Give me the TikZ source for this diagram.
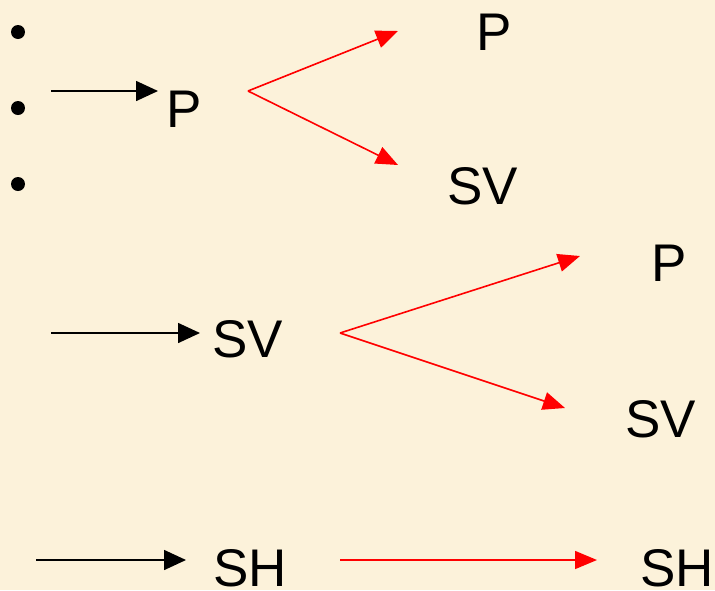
\documentclass[tikz,border=0pt]{standalone}
\usepackage{fontspec}
\setmainfont{Liberation Sans}
\usepackage{xcolor}
\usetikzlibrary{arrows.meta}
\definecolor{paperCream}{HTML}{FCF2DA}
\definecolor{forkRed}{HTML}{FF0000}

\begin{document}
\begin{tikzpicture}[
  x=1pt, y=-1pt,
  lbl/.style={anchor=base west, inner sep=0pt, font=\fontsize{53}{60}\selectfont},
  dot/.style={circle, fill=black, inner sep=0pt, minimum size=14pt},
  arr/.style={-{Triangle[length=22pt, width=20pt]}, line width=1.6pt},
  rarr/.style={color=forkRed, line width=1.6pt, -{Triangle[length=22pt, width=18pt]}}
]
\fill[paperCream] (0,0) rectangle (715,590);
\useasboundingbox (0,0) rectangle (715,590);
% bullets
\node[dot] (b1) at (18,32) {};
\node[dot] (b2) at (18,108) {};
\node[dot] (b3) at (18,184) {};
% labels
\node[lbl] (p1) at (166,127) {P};
\node[lbl] (p2) at (476,50) {P};
\node[lbl] (sv1) at (447,204) {SV};
\node[lbl] (sv2) at (212,357) {SV};
\node[lbl] (p3) at (651,281) {P};
\node[lbl] (sv3) at (625,437) {SV};
\node[lbl] (sh1) at (213,586) {SH};
\node[lbl] (sh2) at (640,586) {SH};
% arrow ends
\coordinate (in1) at (51,91);
\coordinate (in1tip) at (158,91);
\coordinate (fork1) at (248,91);
\coordinate (fork1a) at (398,31);
\coordinate (fork1b) at (398,165);
\coordinate (in2) at (51,333);
\coordinate (in2tip) at (200,333);
\coordinate (fork2) at (340,333);
\coordinate (fork2a) at (580,256);
\coordinate (fork2b) at (565,408);
\coordinate (in3) at (36,560);
\coordinate (in3tip) at (186,560);
\coordinate (run3) at (340,560);
\coordinate (run3tip) at (597,560);
% connectors
\draw[arr] (in1) -- (in1tip);
\draw[rarr] (fork1) -- (fork1a);
\draw[rarr] (fork1) -- (fork1b);
\draw[arr] (in2) -- (in2tip);
\draw[rarr] (fork2) -- (fork2a);
\draw[rarr] (fork2) -- (fork2b);
\draw[arr] (in3) -- (in3tip);
\draw[rarr] (run3) -- (run3tip);
\end{tikzpicture}
\end{document}
